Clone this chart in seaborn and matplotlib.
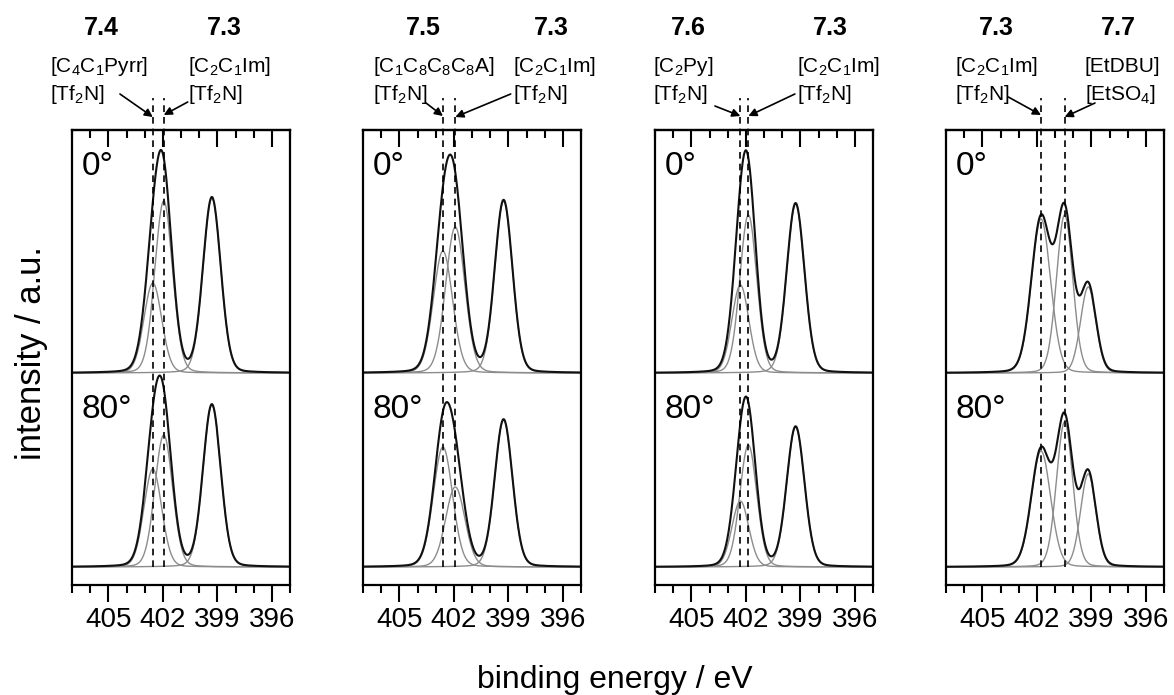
import matplotlib

matplotlib.use("Agg")
import matplotlib.pyplot as plt
import numpy as np
import pandas as pd
import seaborn as sns
from matplotlib.ticker import MultipleLocator

# bold numbers above each panel (left IL, right IL)
left_values = ["7.4", "7.5", "7.6", "7.3"]
right_values = ["7.3", "7.3", "7.3", "7.7"]
left_cations = ["[C$_4$C$_1$Pyrr]", "[C$_1$C$_8$C$_8$C$_8$A]", "[C$_2$Py]", "[C$_2$C$_1$Im]"]
left_anions = ["[Tf$_2$N]", "[Tf$_2$N]", "[Tf$_2$N]", "[Tf$_2$N]"]
right_cations = ["[C$_2$C$_1$Im]", "[C$_2$C$_1$Im]", "[C$_2$C$_1$Im]", "[EtDBU]"]
right_anions = ["[Tf$_2$N]", "[Tf$_2$N]", "[Tf$_2$N]", "[EtSO$_4$]"]
angles = ["0°", "80°"]

# N 1s fit components per panel: binding energy (eV), FWHM (eV), peak heights (a.u.)
peak_centers = [
    [402.55, 401.95, 399.30],
    [402.60, 401.92, 399.26],
    [402.30, 401.86, 399.26],
    [401.77, 400.47, 399.17],
]
peak_fwhm = [
    [1.15, 1.15, 1.15],
    [1.25, 1.25, 1.15],
    [1.10, 1.10, 1.15],
    [1.25, 1.05, 1.00],
]
heights_0 = [
    [90, 172, 175],
    [122, 146, 172],
    [88, 158, 169],
    [154, 158, 86],
]
heights_80 = [
    [98, 132, 162],
    [120, 80, 147],
    [66, 122, 140],
    [116, 145, 93],
]

energy = np.arange(394.9, 407.1, 0.02)

sns.set_theme(style="ticks")
plt.rcParams["font.family"] = ["Liberation Sans", "DejaVu Sans"]
plt.rcParams["mathtext.default"] = "regular"
plt.rcParams["text.color"] = "black"
plt.rcParams["xtick.color"] = "black"
plt.rcParams["xtick.labelcolor"] = "black"

W, H = 1174, 695
fig = plt.figure(figsize=(W / 100, H / 100), dpi=100)

panel_left = [72, 363, 655, 946]
panel_w, panel_top, panel_bot = 218, 130, 585
offset_0 = 194  # vertical shift of the 0 deg spectrum
lorentz_share = 0.1  # GL line shape

# arrow tails (eV, y) and tip heights
arrow_left = [(404.36, 473, 450), (403.53, 464, 451), (403.70, 461, 451), (403.57, 470, 452)]
arrow_right = [(400.63, 465, 452), (398.87, 473, 450), (399.30, 473, 451), (398.80, 464, 450)]
# text anchors in pixels
bold_x = [(101.7, 224), (423.3, 551.7), (688.3, 830), (996.7, 1118.3)]
name_x = [(50, 188), (373.3, 513.3), (653.3, 796.7), (955, 1085)]


def peak(center, fwhm, height):
    u = (energy - center) / fwhm
    g = np.exp(-4 * np.log(2) * u ** 2)
    lz = 1 / (1 + 4 * u ** 2)
    return height * ((1 - lorentz_share) * g + lorentz_share * lz)


for i in range(4):
    ax = fig.add_axes([panel_left[i] / W, (H - panel_bot) / H, panel_w / W, (panel_bot - panel_top) / H])
    comps, sums = [], []
    for k, (heights, shift) in enumerate([(heights_0[i], offset_0), (heights_80[i], 0)]):
        total = np.zeros_like(energy)
        for j in range(3):
            g = peak(peak_centers[i][j], peak_fwhm[i][j], heights[j])
            total += g
            comps.append(pd.DataFrame({"energy": energy, "intensity": g + shift, "curve": f"{k}-{j}"}))
        sums.append(pd.DataFrame({"energy": energy, "intensity": total + shift, "curve": f"{k}"}))
    comp_df = pd.concat(comps, ignore_index=True)
    sum_df = pd.concat(sums, ignore_index=True)
    sns.lineplot(data=comp_df, x="energy", y="intensity", units="curve", estimator=None,
                 color="#8c8c8c", lw=1.0, ax=ax, legend=False)
    sns.lineplot(data=sum_df, x="energy", y="intensity", units="curve", estimator=None,
                 color="#111111", lw=1.5, ax=ax, legend=False)

    for c in peak_centers[i][:2]:
        ax.plot([c, c], [0, 469], color="black", lw=1.2, ls=(0, (4, 3)), clip_on=False)

    tx, ty, tip = arrow_left[i]
    ax.annotate("", xy=(peak_centers[i][0], tip), xytext=(tx, ty), annotation_clip=False,
                arrowprops=dict(arrowstyle="-|>", color="black", lw=1.2, mutation_scale=12, shrinkA=0, shrinkB=0))
    tx, ty, tip = arrow_right[i]
    ax.annotate("", xy=(peak_centers[i][1], tip), xytext=(tx, ty), annotation_clip=False,
                arrowprops=dict(arrowstyle="-|>", color="black", lw=1.2, mutation_scale=12, shrinkA=0, shrinkB=0))

    ax.text(0.045, 0.92, angles[0], transform=ax.transAxes, fontsize=24, va="center", ha="left")
    ax.text(0.045, 0.385, angles[1], transform=ax.transAxes, fontsize=24, va="center", ha="left")

    ax.set_xlim(407, 395)
    ax.set_ylim(-18, 437)
    ax.set_xlabel("")
    ax.set_ylabel("")
    ax.set_yticks([])
    ax.xaxis.set_major_locator(MultipleLocator(3))
    ax.xaxis.set_minor_locator(MultipleLocator(1))
    ax.tick_params(axis="x", which="major", direction="out", length=12, width=1.5,
                   labelsize=20, pad=4, colors="black")
    ax.tick_params(axis="x", which="minor", direction="out", length=6, width=1.5)
    for s in ax.spines.values():
        s.set_visible(True)
        s.set_linewidth(1.6)
        s.set_color("black")

    sec = ax.secondary_xaxis("top")
    sec.xaxis.set_major_locator(MultipleLocator(3))
    sec.xaxis.set_minor_locator(MultipleLocator(1))
    sec.tick_params(axis="x", which="major", direction="in", length=12, width=1.5, labeltop=False)
    sec.tick_params(axis="x", which="minor", direction="in", length=6, width=1.5)
    sec.spines["top"].set_linewidth(1.6)

    # labels above the panel
    fig.text(bold_x[i][0] / W, 1 - 35 / H, left_values[i], fontsize=18, fontweight="bold", ha="center", va="baseline")
    fig.text(bold_x[i][1] / W, 1 - 35 / H, right_values[i], fontsize=18, fontweight="bold", ha="center", va="baseline")
    fig.text(name_x[i][0] / W, 1 - 71.7 / H, left_cations[i], fontsize=15, ha="left", va="baseline")
    fig.text(name_x[i][0] / W, 1 - 100 / H, left_anions[i], fontsize=15, ha="left", va="baseline")
    fig.text(name_x[i][1] / W, 1 - 71.7 / H, right_cations[i], fontsize=15, ha="left", va="baseline")
    fig.text(name_x[i][1] / W, 1 - 100 / H, right_anions[i], fontsize=15, ha="left", va="baseline")

fig.text(32 / W, 1 - 353 / H, "intensity / a.u.", rotation=90, fontsize=25, ha="center", va="center")
fig.text(615 / W, 1 - 680 / H, "binding energy / eV", fontsize=23, ha="center", va="center")

fig.savefig("out.png", dpi=100)
plt.close(fig)
